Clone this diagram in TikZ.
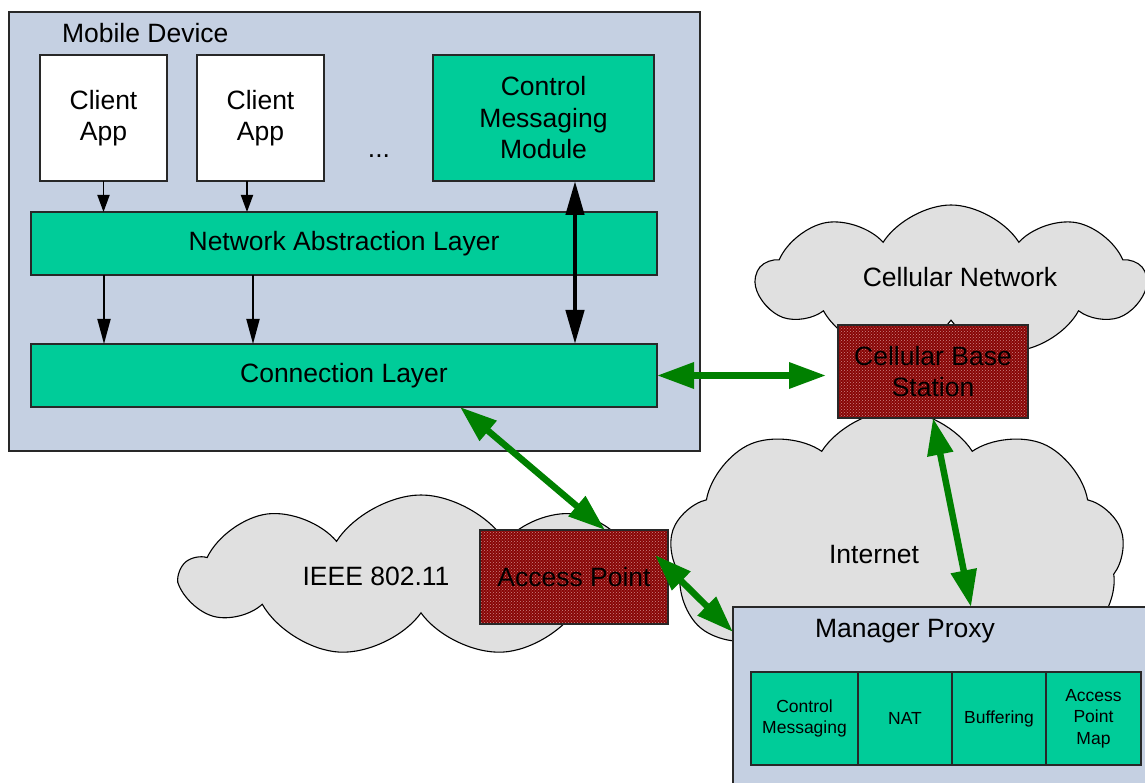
\documentclass[tikz,border=0pt]{standalone}
\usepackage{fontspec}
\setmainfont{Liberation Sans}
\usetikzlibrary{shapes.symbols,arrows.meta,patterns,calc}
\definecolor{boxbg}{RGB}{197,208,226}
\definecolor{tealbox}{RGB}{0,204,153}
\definecolor{cloudgray}{RGB}{224,224,224}
\definecolor{arrowgreen}{RGB}{0,128,0}
\definecolor{bsred}{RGB}{135,5,5}
\definecolor{bsdot}{RGB}{205,135,135}
\definecolor{edgegray}{RGB}{40,40,40}
\begin{document}
\begin{tikzpicture}[x=1pt,y=-1pt,
  every node/.style={font=\fontsize{26.5}{31.5}\selectfont, inner sep=0pt, outer sep=0pt, align=center},
  smalltext/.style={font=\fontsize{17.5}{21.5}\selectfont},
  devicebox/.style={draw=edgegray, line width=1.3pt, fill=boxbg},
  whitebox/.style={draw=edgegray, line width=1.3pt, fill=white},
  greenbox/.style={draw=edgegray, line width=1.3pt, fill=tealbox},
  redbox/.style={draw=edgegray, line width=1.2pt, preaction={fill=bsred}, pattern=crosshatch dots, pattern color=bsdot},
  cloudshape/.style={cloud, draw=black, line width=1.1pt, fill=cloudgray, cloud puffs=9, cloud puff arc=115, cloud ignores aspect},
  garrow/.style={draw=arrowgreen, line width=6.5pt, {Triangle[length=37pt,width=25pt]}-{Triangle[length=37pt,width=25pt]}},
  thinarrow/.style={draw=black, line width=1.8pt, -{Triangle[length=17pt,width=12pt]}},
  midarrow/.style={draw=black, line width=1.8pt, -{Triangle[length=25pt,width=13pt]}},
  thickarrow/.style={draw=black, line width=4.5pt, {Triangle[length=34pt,width=18pt]}-{Triangle[length=34pt,width=18pt]}}
]
\useasboundingbox (0,0) rectangle (1145,783);
\clip (0,0) rectangle (1145,783);
\fill[white] (0,0) rectangle (1145,783);

% clouds
\node[cloudshape, minimum width=478pt, minimum height=162pt,
      label={[xshift=-45pt]center:IEEE 802.11}] (ieee) at (421,576) {};
\node[cloudshape, minimum width=455pt, minimum height=290pt,
      label={[xshift=-23pt]center:Internet}] (inet) at (897,555) {};
\node[cloudshape, minimum width=388pt, minimum height=150pt,
      label={[xshift=9pt,yshift=3pt]center:Cellular Network}] (cell) at (951,280) {};

% mobile device
\node[devicebox, minimum width=691pt, minimum height=439pt] (md) at (354.5,231.5) {};
\node[anchor=west] (mdlabel) at (62,33) {Mobile Device};
\node[whitebox, minimum width=127pt, minimum height=126pt] (c1) at (103.5,118) {Client\\App};
\node[whitebox, minimum width=127pt, minimum height=126pt] (c2) at (260.5,118) {Client\\App};
\node (dots) at (379,156) {...};
\node[greenbox, minimum width=221pt, minimum height=126pt] (cmm) at (543.5,118) {Control\\Messaging\\Module};
\node[greenbox, minimum width=626pt, minimum height=63pt] (nal) at (344,243.5) {Network Abstraction Layer};
\node[greenbox, minimum width=626pt, minimum height=63pt] (cl) at (344,375.5) {Connection Layer};

% red boxes
\node[redbox, minimum width=190pt, minimum height=93pt] (bs) at (933,371.5) {Cellular Base\\Station};
\node[redbox, minimum width=188pt, minimum height=94pt] (ap) at (574,577) {Access Point};

% manager proxy
\node[devicebox, minimum width=427pt, minimum height=193pt] (mp) at (946.5,703.5) {};
\node (mplabel) at (905,631) {Manager Proxy};
\node[greenbox, smalltext, minimum width=107pt, minimum height=93pt] (p1) at (804.5,718.5) {Control\\Messaging};
\node[greenbox, smalltext, minimum width=94pt, minimum height=93pt] (p2) at (905,718.5) {NAT};
\node[greenbox, smalltext, minimum width=94pt, minimum height=93pt] (p3) at (999,718.5) {Buffering};
\node[greenbox, smalltext, minimum width=95pt, minimum height=93pt] (p4) at (1093.5,718.5) {Access\\Point\\Map};

% black arrows
\draw[thinarrow] (c1.south) -- (c1.south |- nal.north);
\draw[thinarrow] ($(c2.south)+(-13.5,0)$) coordinate (c2a) -- (c2a |- nal.north);
\draw[midarrow] ($(nal.south)+(-240,0)$) coordinate (n1) -- (n1 |- cl.north);
\draw[midarrow] ($(nal.south)+(-91,0)$) coordinate (n2) -- (n2 |- cl.north);
\draw[thickarrow] ($(cmm.south)+(31.5,0)$) coordinate (cm) -- (cm |- cl.north);

% green arrows
\draw[garrow, shorten >=12pt] (cl.east) -- (cl.east -| bs.west);
\draw[garrow] ($(cl.south)+(116,0)$) -- ($(ap.north)+(31,0)$);
\draw[garrow] ($(ap.east)+(-13,-22)$) -- ($(mp.north west)+(0,25)$);
\draw[garrow] (bs.south) -- ($(mp.north west)+(238,0)$);
\end{tikzpicture}
\end{document}
